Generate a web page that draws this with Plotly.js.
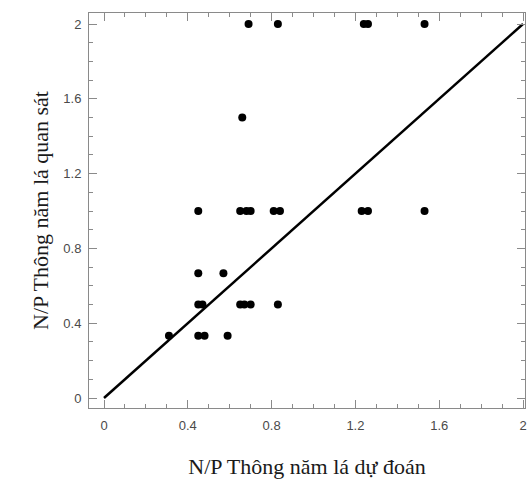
<!DOCTYPE html>
<html>
<head>
<meta charset="utf-8">
<script src="https://cdn.plot.ly/plotly-3.0.1.min.js"></script>
<style>html,body{margin:0;padding:0;background:#fff;}#chart{width:527px;height:484px;}</style>
</head>
<body>
<div id="chart"></div>
<script>
// Observed vs predicted N/P ratio (Thông năm lá)
const predicted = [0.69, 0.83, 1.24, 1.26, 1.53,
                   0.66,
                   0.45, 0.65, 0.68, 0.70, 0.81, 0.84, 1.23, 1.26, 1.53,
                   0.45, 0.57,
                   0.45, 0.47, 0.65, 0.67, 0.70, 0.83,
                   0.31, 0.45, 0.48, 0.59];
const observed  = [2, 2, 2, 2, 2,
                   1.5,
                   1, 1, 1, 1, 1, 1, 1, 1, 1,
                   0.667, 0.667,
                   0.5, 0.5, 0.5, 0.5, 0.5, 0.5,
                   0.333, 0.333, 0.333, 0.333];
const lineX = [0, 2];
const lineY = [0, 2];
const tickVals = [0, 0.4, 0.8, 1.2, 1.6, 2];
const tickText = ["0", "0.4", "0.8", "1.2", "1.6", "2"];
const xTitle = "N/P Thông năm lá dự đoán";
const yTitle = "N/P Thông năm lá quan sát";

const axisCommon = {
  tickmode: 'array', tickvals: tickVals, ticktext: tickText,
  ticks: 'inside', ticklen: 8, tickwidth: 1, tickcolor: '#8a8a8a',
  showline: true, linecolor: '#8a8a8a', linewidth: 1, mirror: 'ticks',
  showgrid: false, zeroline: false,
  minor: {dtick: 0.1, tick0: 0, ticks: 'inside', ticklen: 4, tickwidth: 1, tickcolor: '#8a8a8a', showgrid: false},
  tickfont: {family: 'Liberation Sans, Arial, sans-serif', size: 13, color: '#4a4a4a'}
};

const data = [
  {x: predicted, y: observed, type: 'scatter', mode: 'markers',
   marker: {color: '#000', size: 8}, hoverinfo: 'x+y'},
  {x: lineX, y: lineY, type: 'scatter', mode: 'lines',
   line: {color: '#000', width: 2.5}}
];

const layout = {
  width: 527, height: 484,
  margin: {l: 89, r: 2, t: 13, b: 76},
  paper_bgcolor: '#fff', plot_bgcolor: '#fff',
  showlegend: false,
  xaxis: Object.assign({}, axisCommon, {
    range: [-0.0716, 2.0095],
    ticklabelstandoff: 5,
    title: {text: xTitle, standoff: 27, font: {family: 'Liberation Serif, Times New Roman, serif', size: 22, color: '#1a1a1a'}}
  }),
  yaxis: Object.assign({}, axisCommon, {
    range: [-0.0535, 2.0588],
    ticklabelstandoff: 4,
    title: {text: yTitle, standoff: 8, font: {family: 'Liberation Serif, Times New Roman, serif', size: 22, color: '#1a1a1a'}}
  })
};

Plotly.newPlot('chart', data, layout, {displayModeBar: false, staticPlot: true});
</script>
</body>
</html>
